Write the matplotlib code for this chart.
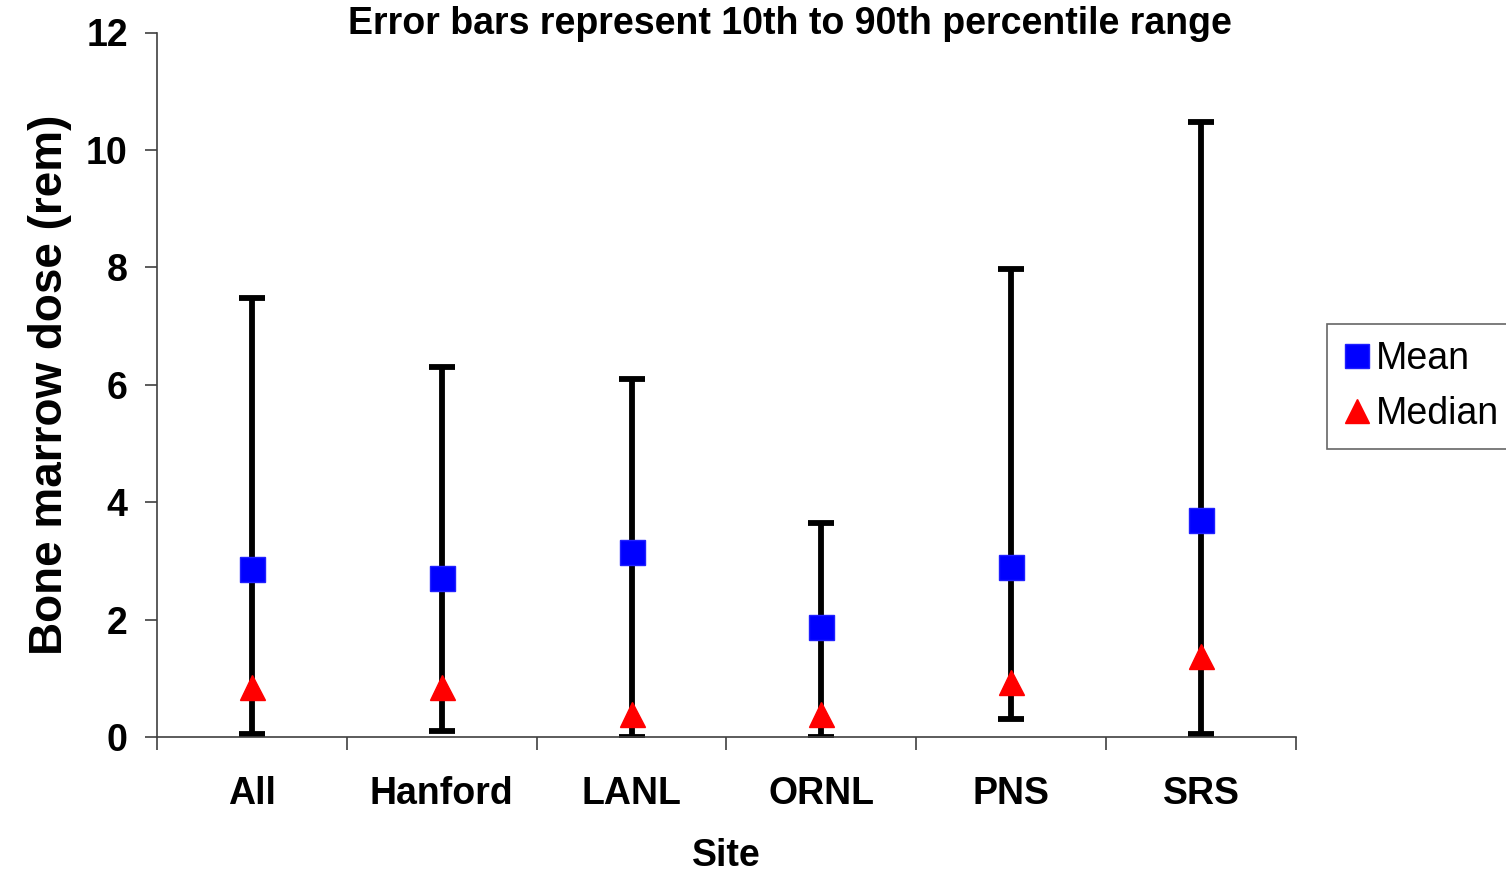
import matplotlib
matplotlib.use('Agg')
import matplotlib.pyplot as plt
import numpy as np

# 数据
sites = ['All', 'Hanford', 'LANL', 'ORNL', 'PNS', 'SRS']
mean_dose = [2.86, 2.71, 3.15, 1.87, 2.90, 3.70]
median_dose = [0.86, 0.86, 0.39, 0.39, 0.93, 1.38]
p10 = [0.05, 0.10, 0.0, 0.0, 0.31, 0.05]
p90 = [7.48, 6.30, 6.10, 3.64, 7.97, 10.48]

plt.rcParams['font.family'] = ['Liberation Sans', 'DejaVu Sans']

fig = plt.figure(figsize=(15.06, 8.74), dpi=100)
ax = fig.add_axes([157 / 1506, 1 - 737 / 874, (1296 - 157) / 1506, (737 - 32.5) / 874])

x = np.arange(len(sites))
mean_arr = np.array(mean_dose)
lower = mean_arr - np.array(p10)
upper = np.array(p90) - mean_arr

# 误差线：10th 到 90th 百分位
ax.errorbar(x, mean_arr, yerr=[lower, upper], fmt='none', ecolor='black',
            elinewidth=4.2, capsize=9.5, capthick=4.2, zorder=2)

ax.plot(x, mean_dose, linestyle='none', marker='s', markersize=18,
        color='#0000FF', markeredgecolor='#2020FF', label='Mean', zorder=3)
ax.plot(x, median_dose, linestyle='none', marker='^', markersize=18,
        color='#FF0000', markeredgecolor='#FF0000', label='Median', zorder=3)

ax.set_xlim(-0.5, len(sites) - 0.5)
ax.set_ylim(0, 12)
ax.set_yticks(np.arange(0, 13, 2))
ax.set_xticks(x)
ax.set_xticklabels(sites)
ax.set_xticks(np.arange(-0.5, len(sites)), minor=True)

ax.tick_params(axis='x', which='major', length=0, pad=28, labelsize=27)
ax.tick_params(axis='x', which='minor', length=9, width=1.2, direction='out', color='#404040')
ax.tick_params(axis='y', length=9, width=1.2, direction='out', pad=12, labelsize=27, color='#404040')
for lbl in ax.get_xticklabels() + ax.get_yticklabels():
    lbl.set_fontweight('bold')

for side in ['top', 'right']:
    ax.spines[side].set_visible(False)
for side in ['left', 'bottom']:
    ax.spines[side].set_color('#404040')
    ax.spines[side].set_linewidth(1.2)

ax.set_xlabel('Site', fontsize=27, fontweight='bold', labelpad=19)
ax.set_ylabel('Bone marrow dose (rem)', fontsize=33, fontweight='bold', labelpad=10)

fig.text(790 / 1506, 1 - 24 / 874, 'Error bars represent 10th to 90th percentile range',
         ha='center', va='center', fontsize=27, fontweight='bold')

leg = fig.legend(loc='upper left', bbox_to_anchor=(1327 / 1506, 1 - 324 / 874),
                 fontsize=27, frameon=True, fancybox=False, handlelength=0.7,
                 handletextpad=0.15, borderpad=0.45, labelspacing=0.5,
                 borderaxespad=0, markerscale=0.95)
leg.get_frame().set_edgecolor('#404040')
leg.get_frame().set_linewidth(1.2)

plt.savefig('out.png', dpi=100)
plt.close()
